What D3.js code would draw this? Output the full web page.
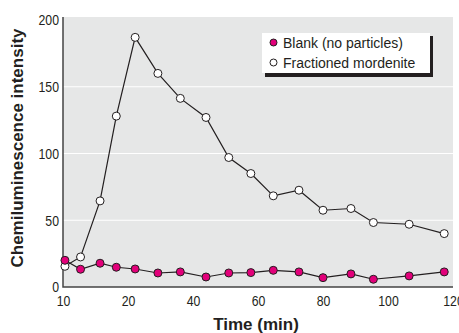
<!DOCTYPE html>
<meta charset="utf-8">
<style>
body { margin: 0; background: #fff; }
text { font-family: "Liberation Sans", Arial, sans-serif; fill: #231f20; }
.title { font-weight: bold; font-size: 17px; }
.tick text { font-size: 15px; }
.legend text { font-size: 14px; }
</style>
<body></body>
<script src="https://cdn.jsdelivr.net/npm/d3@7"></script>
<script>

// Data
var time = [10.3, 12.7, 15.7, 18.2, 22.2, 29.2, 36.1, 44, 51, 57.8, 64.7, 72.6, 80, 88.6, 95.5, 106.5, 117.3];
var blank = [20, 13.3, 17.8, 14.8, 13.5, 10.5, 11.3, 7.5, 10.5, 10.8, 12.5, 11.3, 7, 9.8, 5.8, 8.3, 11.3];
var mordenite = [15.5, 22.5, 64.5, 128, 187, 160, 141.3, 127, 97, 85, 68.3, 72.5, 57.5, 58.8, 48.3, 47, 40];
var xTicks = [10, 20, 40, 60, 80, 100, 120];
var yTicks = [0, 50, 100, 150, 200];
var seriesNames = ["Blank (no particles)", "Fractioned mordenite"];

var W = 459, H = 333;
var plotLeft = 63, plotRight = 453, plotTop = 17, plotBottom = 287;

var svg = d3.select("body").append("svg")
    .attr("width", W)
    .attr("height", H);

// x axis is not linear: equal steps between the tick values
var x = d3.scaleLinear()
    .domain(xTicks)
    .range(xTicks.map(function(d, i) { return plotLeft + i * (plotRight - plotLeft) / (xTicks.length - 1); }));

var y = d3.scaleLinear()
    .domain([0, 200])
    .range([plotBottom, 20]);

svg.append("rect")
    .attr("x", plotLeft)
    .attr("y", plotTop)
    .attr("width", plotRight - plotLeft)
    .attr("height", plotBottom - plotTop)
    .attr("fill", "#e6e7e7");

// white gridlines
svg.selectAll(".grid")
    .data([50, 100, 150])
    .enter().append("line")
    .attr("x1", plotLeft)
    .attr("x2", plotRight)
    .attr("y1", function(d) { return y(d); })
    .attr("y2", function(d) { return y(d); })
    .attr("stroke", "#fff")
    .attr("stroke-width", 1.2);

// condensed look for the tick labels
var yAxis = svg.append("g")
    .attr("transform", "translate(" + (plotLeft - 4) + ",0)")
    .call(d3.axisLeft(y).tickValues(yTicks).tickSize(0).tickPadding(0));
yAxis.select(".domain").remove();
yAxis.selectAll("text").attr("x", 0).attr("transform", "scale(0.82,1)");

var xAxis = svg.append("g")
    .attr("transform", "translate(0," + plotBottom + ")")
    .call(d3.axisBottom(x).tickValues(xTicks).tickSize(0).tickPadding(8));
xAxis.select(".domain").remove();
xAxis.selectAll("text").attr("transform", "scale(0.82,1)");

svg.append("path")
    .attr("d", "M" + plotLeft + "," + plotTop + "V" + plotBottom + "H" + plotRight)
    .attr("fill", "none")
    .attr("stroke", "#444")
    .attr("stroke-width", 1.5);

var line = d3.line()
    .x(function(d) { return x(d[0]); })
    .y(function(d) { return y(d[1]); });

var series = [
  {values: d3.zip(time, mordenite), fill: "#fff"},
  {values: d3.zip(time, blank), fill: "#e2007a"}
];

series.forEach(function(s) {
  svg.append("path")
      .datum(s.values)
      .attr("d", line)
      .attr("fill", "none")
      .attr("stroke", "#231f20")
      .attr("stroke-width", 1.2);
  svg.selectAll(null)
      .data(s.values)
      .enter().append("circle")
      .attr("cx", function(d) { return x(d[0]); })
      .attr("cy", function(d) { return y(d[1]); })
      .attr("r", 4)
      .attr("fill", s.fill)
      .attr("stroke", "#231f20")
      .attr("stroke-width", 1);
});

// legend
var lg = svg.append("g").attr("class", "legend");
lg.append("rect")
    .attr("x", 265).attr("y", 36)
    .attr("width", 168).attr("height", 41)
    .attr("fill", "#231f20");
lg.append("rect")
    .attr("x", 262).attr("y", 33)
    .attr("width", 168).attr("height", 40)
    .attr("fill", "#fff");
var fills = ["#e2007a", "#fff"];
seriesNames.forEach(function(n, i) {
  lg.append("circle")
      .attr("cx", 273.5)
      .attr("cy", 42.5 + i * 20)
      .attr("r", 3.5)
      .attr("fill", fills[i])
      .attr("stroke", "#231f20")
      .attr("stroke-width", 1);
  lg.append("text")
      .attr("x", 283)
      .attr("y", 47.5 + i * 20)
      .text(n);
});

svg.append("text")
    .attr("class", "title")
    .attr("x", 256)
    .attr("y", 330)
    .attr("text-anchor", "middle")
    .text("Time (min)");

svg.append("text")
    .attr("class", "title")
    .attr("transform", "translate(23," + 148 + ") rotate(-90)")
    .attr("text-anchor", "middle")
    .text("Chemiluminescence intensity");

</script>
